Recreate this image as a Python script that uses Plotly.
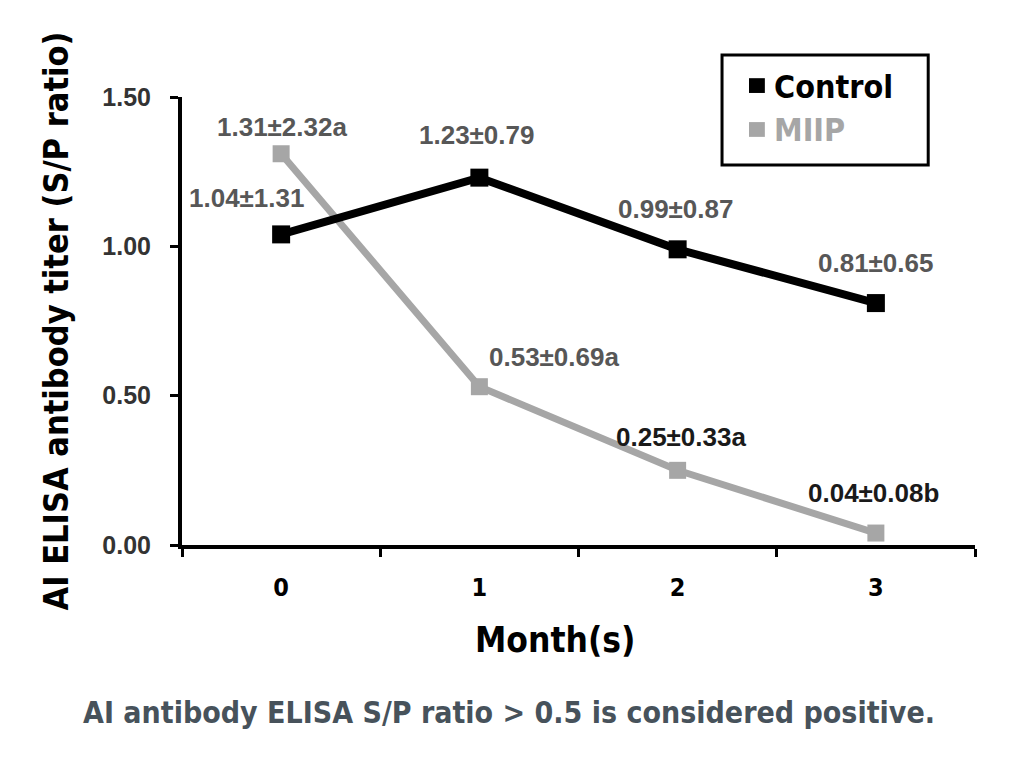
import plotly.graph_objects as go

months = [0, 1, 2, 3]
control = [1.04, 1.23, 0.99, 0.81]
miip = [1.31, 0.53, 0.25, 0.04]
control_labels = ['1.04±1.31', '1.23±0.79', '0.99±0.87', '0.81±0.65']
miip_labels = ['1.31±2.32a', '0.53±0.69a', '0.25±0.33a', '0.04±0.08b']
y_ticks = [0, 0.5, 1.0, 1.5]
y_ticktext = ['0.00', '0.50', '1.00', '1.50']

BLACK = '#000000'
GREY = '#a6a6a6'
LABEL = '#575757'
LABEL_FONT = 'Liberation Sans'
NARROW = 'DejaVu Sans Condensed, Roboto Condensed, Liberation Sans Narrow, sans-serif'

fig = go.Figure()

fig.add_trace(go.Scatter(x=months, y=miip, mode='lines+markers', showlegend=False,
                         line=dict(color=GREY, width=7),
                         marker=dict(symbol='square', size=17, color=GREY)))
fig.add_trace(go.Scatter(x=months, y=control, mode='lines+markers', showlegend=False,
                         line=dict(color=BLACK, width=8),
                         marker=dict(symbol='square', size=18, color=BLACK)))

# value labels
c_shift = [(-35, 36), (-3, 43), (-2, 40), (0, 40)]
m_shift = [(1, 27), (75, 30), (3, 33), (-2, 40)]
m_color = [LABEL, LABEL, '#1a1a1a', '#1a1a1a']
for i, m in enumerate(months):
    fig.add_annotation(x=m, y=control[i], text=control_labels[i],
                       showarrow=False, xshift=c_shift[i][0], yshift=c_shift[i][1],
                       font=dict(family=LABEL_FONT, size=26, color=LABEL, weight='bold'))
    fig.add_annotation(x=m, y=miip[i], text=miip_labels[i],
                       showarrow=False, xshift=m_shift[i][0], yshift=m_shift[i][1],
                       font=dict(family=LABEL_FONT, size=26, color=m_color[i], weight='bold'))

# legend box drawn by hand (squares only, no lines)
fig.add_shape(type='rect', xref='paper', yref='paper', x0=0.681, x1=0.941, y0=0.848, y1=1.094,
              line=dict(color=BLACK, width=3), fillcolor='white')
fig.add_shape(type='rect', xref='paper', yref='paper', x0=0.715, x1=0.735, y0=1.009, y1=1.042,
              line=dict(width=0), fillcolor=BLACK)
fig.add_shape(type='rect', xref='paper', yref='paper', x0=0.715, x1=0.735, y0=0.911, y1=0.944,
              line=dict(width=0), fillcolor=GREY)
fig.add_annotation(x=0.744, y=1.022, xref='paper', yref='paper', xanchor='left', yanchor='middle',
                   showarrow=False, text='Control',
                   font=dict(family=NARROW, size=32, color=BLACK, weight='bold'))
fig.add_annotation(x=0.744, y=0.926, xref='paper', yref='paper', xanchor='left', yanchor='middle',
                   showarrow=False, text='MIIP',
                   font=dict(family=NARROW, size=32, color=GREY, weight='bold'))

fig.add_annotation(x=0.470, y=-0.212, xref='paper', yref='paper', showarrow=False,
                   xanchor='center', yanchor='middle', text='Month(s)',
                   font=dict(family=NARROW, size=35, color=BLACK, weight='bold'))

fig.add_annotation(x=0.412, y=-0.373, xref='paper', yref='paper', showarrow=False,
                   xanchor='center', yanchor='middle',
                   text='AI antibody ELISA S/P ratio &gt; 0.5 is considered positive.',
                   font=dict(family=NARROW, size=30, color='#47525b', weight='bold'))

fig.update_layout(
    width=1024, height=761,
    margin=dict(l=174, r=57, t=89, b=224),
    paper_bgcolor='white', plot_bgcolor='white',
    showlegend=False,
    xaxis=dict(range=[-0.5, 3.5], tickvals=months, ticktext=[str(m) for m in months],
               ticks='', showgrid=False, zeroline=False,
               showline=True, linecolor=BLACK, linewidth=4,
               tickfont=dict(family=NARROW, size=25, color=BLACK, weight='bold'),
               ticklabelstandoff=17,
               minor=dict(tick0=-0.5, dtick=1, ticks='outside', ticklen=8,
                          tickwidth=3, tickcolor=BLACK, showgrid=False)),
    yaxis=dict(range=[0, 1.5], tickvals=y_ticks, ticktext=y_ticktext,
               ticks='outside', ticklen=8, tickwidth=3, tickcolor=BLACK,
               showgrid=False, zeroline=False,
               showline=True, linecolor=BLACK, linewidth=4,
               tickfont=dict(family=LABEL_FONT, size=25, color='#333333', weight='bold'),
               ticklabelstandoff=14,
               title=dict(text='AI ELISA antibody titer (S/P ratio)', standoff=24,
                          font=dict(family=NARROW, size=34, color=BLACK, weight='bold'))),
)

fig.write_html("out.html")
